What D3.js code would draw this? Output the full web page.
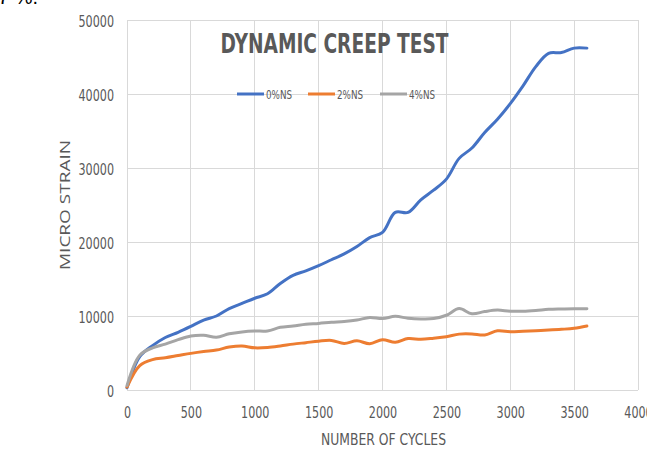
<!DOCTYPE html>
<html>
<head>
<meta charset="utf-8">
<script src="https://cdn.jsdelivr.net/npm/d3@7"></script>
<style>
html,body{margin:0;padding:0;background:#fff;}
svg{display:block;}
</style>
</head>
<body>
<svg id="chart" width="647" height="451"></svg>
<script>
const cycles = [0,100,200,300,400,500,600,700,800,900,1000,1100,1200,1300,1400,1500,1600,1700,1800,1900,2000,2100,2200,2300,2400,2500,2600,2700,2800,2900,3000,3100,3200,3300,3400,3500,3600];
const ns0 = [300,4500,6000,7100,7800,8600,9450,10000,11000,11700,12400,13000,14400,15500,16100,16800,17600,18400,19400,20600,21300,24000,24000,25700,27000,28500,31300,32700,34800,36600,38700,41100,43700,45500,45600,46200,46200];
const ns2 = [400,3300,4100,4350,4650,4950,5200,5400,5800,5950,5700,5750,5950,6200,6400,6600,6700,6300,6650,6250,6800,6450,6950,6850,7000,7200,7550,7570,7430,8000,7880,7950,8020,8100,8200,8340,8650];
const ns4 = [600,4700,5700,6200,6800,7300,7400,7120,7600,7850,7970,7980,8470,8650,8900,9000,9150,9250,9450,9800,9650,9950,9700,9600,9650,10100,11000,10300,10600,10800,10650,10650,10750,10900,10950,10980,10990];
const seriesNames = ["0%NS","2%NS","4%NS"];
const xTicks = [0,500,1000,1500,2000,2500,3000,3500,4000];
const yTicks = [0,10000,20000,30000,40000,50000];
const title = "DYNAMIC CREEP TEST";
const xTitle = "NUMBER OF CYCLES";
const yTitle = "MICRO STRAIN";

const colors = ["#4472C4","#ED7D31","#A5A5A5"];
const allSeries = [ns0, ns2, ns4];
const narrow = "'Liberation Sans Narrow','DejaVu Sans Condensed','Roboto Condensed',sans-serif";
const textCol = "#595959";

const svg = d3.select("#chart");
const x = d3.scaleLinear().domain([0,4000]).range([127,638]);
const y = d3.scaleLinear().domain([0,50000]).range([390,20]);

// stray text from surrounding document
svg.append("text").attr("x",-2).attr("y",4).attr("font-family","'Liberation Sans',sans-serif")
  .attr("font-size",20).attr("fill","#000").text("7 %.");

// gridlines
svg.append("g").selectAll("line.h").data(yTicks).join("line")
  .attr("x1",x(0)).attr("x2",x(4000)).attr("y1",d=>y(d)).attr("y2",d=>y(d))
  .attr("stroke","#d9d9d9").attr("stroke-width",1).attr("shape-rendering","crispEdges");
svg.append("g").selectAll("line.v").data(xTicks).join("line")
  .attr("x1",d=>x(d)).attr("x2",d=>x(d)).attr("y1",y(0)).attr("y2",y(50000))
  .attr("stroke","#d9d9d9").attr("stroke-width",1).attr("shape-rendering","crispEdges");

const digitW = 7.1;
// axes labels via d3 axes
const xAxis = svg.append("g").attr("transform",`translate(0,${y(0)})`)
  .call(d3.axisBottom(x).tickValues(xTicks).tickSize(0).tickPadding(17).tickFormat(d3.format("d")));
xAxis.select(".domain").remove();
xAxis.selectAll("text").attr("font-family",narrow).attr("font-size",15.5).attr("fill",textCol)
  .attr("textLength",d=>String(d).length*digitW).attr("lengthAdjust","spacingAndGlyphs");

const yAxis = svg.append("g").attr("transform",`translate(${x(0)},0)`)
  .call(d3.axisLeft(y).tickValues(yTicks).tickSize(0).tickPadding(13).tickFormat(d3.format("d")));
yAxis.select(".domain").remove();
yAxis.selectAll("text").attr("font-family",narrow).attr("font-size",15.5).attr("fill",textCol).attr("dy","0.4em")
  .attr("textLength",d=>String(d).length*digitW).attr("lengthAdjust","spacingAndGlyphs");

// lines
const line = d3.line().x((d,i)=>x(cycles[i])).y(d=>y(d)).curve(d3.curveCatmullRom.alpha(0.5));
allSeries.forEach((s,k)=>{
  svg.append("path").datum(s).attr("d",line).attr("fill","none")
    .attr("stroke",colors[k]).attr("stroke-width",3).attr("stroke-linejoin","round").attr("stroke-linecap","round");
});

// title
svg.append("text").attr("x",334.5).attr("y",52.5).attr("text-anchor","middle")
  .attr("font-family",narrow).attr("font-weight","bold").attr("font-size",27)
  .attr("fill",textCol).attr("textLength",228).attr("lengthAdjust","spacingAndGlyphs").text(title);

// legend
const legX = [237,308,380];
seriesNames.forEach((n,k)=>{
  svg.append("line").attr("x1",legX[k]).attr("x2",legX[k]+27).attr("y1",94).attr("y2",94)
    .attr("stroke",colors[k]).attr("stroke-width",3);
  svg.append("text").attr("x",legX[k]+29).attr("y",98.5).attr("font-family",narrow)
    .attr("font-size",12.5).attr("fill",textCol).attr("textLength",26).attr("lengthAdjust","spacingAndGlyphs").text(n);
});

// axis titles
svg.append("text").attr("x",383.5).attr("y",445).attr("text-anchor","middle")
  .attr("font-family",narrow).attr("font-size",15.5).attr("fill",textCol)
  .attr("textLength",125).attr("lengthAdjust","spacingAndGlyphs").text(xTitle);
svg.append("text").attr("transform","translate(70,205) rotate(-90)").attr("text-anchor","middle")
  .attr("font-family","'Open Sans','DejaVu Sans',sans-serif").attr("font-size",15)
  .attr("fill",textCol).attr("textLength",130).attr("lengthAdjust","spacingAndGlyphs").text(yTitle);
</script>
</body>
</html>
